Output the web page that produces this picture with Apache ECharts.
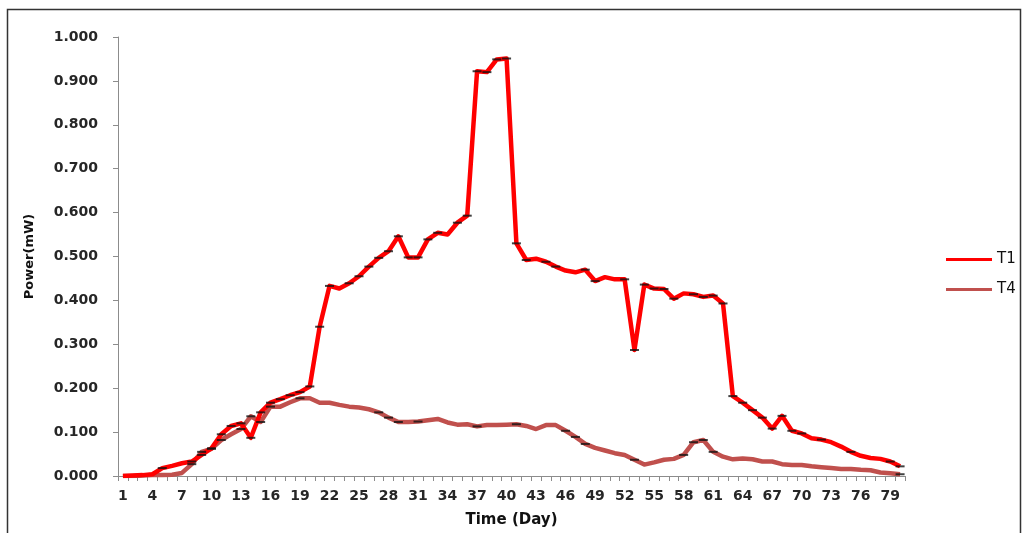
<!DOCTYPE html>
<html>
<head>
<meta charset="utf-8">
<style>
  html, body { margin: 0; padding: 0; background: #fff; }
  #chart { width: 1027px; height: 533px; }
</style>
<script src="https://cdn.jsdelivr.net/npm/echarts@6/dist/echarts.min.js"></script>
</head>
<body>
<div id="chart"></div>
<script>
// Day numbers 1..80
const days = [
  1, 2, 3, 4, 5, 6, 7, 8, 9, 10, 11, 12, 13, 14, 15, 16, 17, 18, 19, 20,
  21, 22, 23, 24, 25, 26, 27, 28, 29, 30, 31, 32, 33, 34, 35, 36, 37, 38, 39, 40,
  41, 42, 43, 44, 45, 46, 47, 48, 49, 50, 51, 52, 53, 54, 55, 56, 57, 58, 59, 60,
  61, 62, 63, 64, 65, 66, 67, 68, 69, 70, 71, 72, 73, 74, 75, 76, 77, 78, 79, 80
];

// Power output (mW), treatment T1
const t1Power = [
  0.000, 0.001, 0.002, 0.004, 0.018, 0.023, 0.029, 0.033, 0.048, 0.063,
  0.095, 0.114, 0.120, 0.087, 0.145, 0.167, 0.175, 0.184, 0.191, 0.204,
  0.340, 0.433, 0.427, 0.439, 0.455, 0.477, 0.497, 0.512, 0.546, 0.498,
  0.498, 0.539, 0.554, 0.550, 0.577, 0.593, 0.922, 0.920, 0.949, 0.951,
  0.530, 0.492, 0.495, 0.488, 0.477, 0.468, 0.464, 0.470, 0.444, 0.453,
  0.448, 0.448, 0.287, 0.436, 0.427, 0.426, 0.404, 0.416, 0.414, 0.408,
  0.411, 0.393, 0.182, 0.167, 0.150, 0.133, 0.108, 0.137, 0.103, 0.097,
  0.086, 0.083, 0.077, 0.067, 0.055, 0.046, 0.041, 0.039, 0.033, 0.022
];

// Power output (mW), treatment T4
const t4Power = [
  0.000, 0.000, 0.001, 0.002, 0.002, 0.003, 0.007, 0.027, 0.055, 0.062,
  0.082, 0.095, 0.107, 0.136, 0.123, 0.158, 0.158, 0.168, 0.177, 0.177,
  0.167, 0.167, 0.162, 0.158, 0.156, 0.152, 0.145, 0.133, 0.123, 0.123,
  0.124, 0.127, 0.130, 0.122, 0.117, 0.118, 0.113, 0.116, 0.116, 0.117,
  0.118, 0.114, 0.107, 0.116, 0.116, 0.103, 0.089, 0.073, 0.064, 0.058,
  0.052, 0.048, 0.037, 0.026, 0.031, 0.037, 0.039, 0.048, 0.077, 0.082,
  0.055, 0.044, 0.038, 0.040, 0.038, 0.033, 0.033, 0.027, 0.025, 0.025,
  0.022, 0.020, 0.018, 0.016, 0.016, 0.014, 0.013, 0.008, 0.006, 0.004
];

// Days whose error-bar caps stand out from the line
const t1CapDays = [
  5, 8, 9, 10, 11, 12, 13, 14, 15, 16, 17, 18, 19, 20, 21, 22, 24, 25, 26, 27, 28, 29, 30, 31,
  32, 33, 35, 36, 37, 38, 39, 40, 41, 42, 44, 45, 48, 49, 52, 53, 54, 55, 56, 57,
  59, 60, 61, 62, 63, 64, 65, 66, 67, 68, 69, 70, 72, 75, 79, 80
];
const t4CapDays = [8, 9, 10, 11, 13, 14, 15, 16, 19, 27, 28, 29, 31, 37, 41, 46, 47, 48, 53, 58, 59, 60, 61, 80];

// Y-axis tick labels
const yTicks = [0, 0.1, 0.2, 0.3, 0.4, 0.5, 0.6, 0.7, 0.8, 0.9, 1.0];

const labelFont = { fontFamily: 'DejaVu Sans', fontWeight: 'bold', fontSize: 14, color: '#262626' };

const capData = (capDays, values) => capDays.map(d => [d - 1, values[d - 1]]);

const chart = echarts.init(document.getElementById('chart'), null, { renderer: 'canvas' });

chart.setOption({
  animation: false,
  backgroundColor: '#ffffff',
  grid: { left: 118, right: 122, top: 37, bottom: 56, containLabel: false },
  xAxis: {
    type: 'category',
    data: days.map(String),
    boundaryGap: true,
    name: 'Time (Day)',
    nameLocation: 'middle',
    nameGap: 37,
    nameTextStyle: { fontFamily: 'DejaVu Sans', fontWeight: 'bold', fontSize: 15, color: '#111' },
    axisLine: { lineStyle: { color: '#8c8c8c', width: 1 } },
    axisTick: { show: true, length: 5, interval: 0, inside: false, lineStyle: { color: '#8c8c8c' } },
    axisLabel: Object.assign({ interval: 2, margin: 13 }, labelFont),
    splitLine: { show: false }
  },
  yAxis: {
    type: 'value',
    min: yTicks[0],
    max: yTicks[yTicks.length - 1],
    interval: 0.1,
    name: 'Power(mW)',
    nameLocation: 'middle',
    nameGap: 82,
    nameRotate: 90,
    nameTextStyle: { fontFamily: 'DejaVu Sans', fontWeight: 'bold', fontSize: 13, color: '#111' },
    axisLine: { show: true, lineStyle: { color: '#8c8c8c', width: 1 } },
    axisTick: { show: true, length: 5, lineStyle: { color: '#8c8c8c' } },
    axisLabel: Object.assign({ margin: 20, formatter: v => v.toFixed(3) }, labelFont),
    splitLine: { show: false }
  },
  legend: {
    data: ['T1', 'T4'],
    orient: 'vertical',
    left: 946,
    top: 252,
    padding: 0,
    itemWidth: 46,
    itemHeight: 14,
    itemGap: 15,
    textStyle: { fontFamily: 'DejaVu Sans', fontSize: 15, color: '#111' },
    icon: 'path://M0,5.5H46V8.5H0Z'
  },
  series: [
    {
      name: 'T1',
      type: 'line',
      data: t1Power,
      showSymbol: false,
      symbol: 'none',
      lineStyle: { color: '#ff0000', width: 4.5, join: 'round' },
      itemStyle: { color: '#ff0000' },
      z: 3
    },
    {
      name: 'T4',
      type: 'line',
      data: t4Power,
      showSymbol: false,
      symbol: 'none',
      lineStyle: { color: '#c0504d', width: 4.5, join: 'round' },
      itemStyle: { color: '#c0504d' },
      z: 2
    },
    {
      name: 'T1 caps',
      type: 'scatter',
      data: capData(t1CapDays, t1Power),
      symbol: 'rect',
      symbolSize: [9, 2],
      itemStyle: { color: '#111' },
      silent: true,
      z: 5
    },
    {
      name: 'T4 caps',
      type: 'scatter',
      data: capData(t4CapDays, t4Power),
      symbol: 'rect',
      symbolSize: [9, 2],
      itemStyle: { color: '#111' },
      silent: true,
      z: 4
    }
  ],
  graphic: [
    {
      type: 'rect',
      shape: { x: 7.5, y: 9.5, width: 1013, height: 600 },
      style: { fill: 'none', stroke: '#333', lineWidth: 1.5 },
      silent: true
    }
  ]
});
</script>
</body>
</html>
